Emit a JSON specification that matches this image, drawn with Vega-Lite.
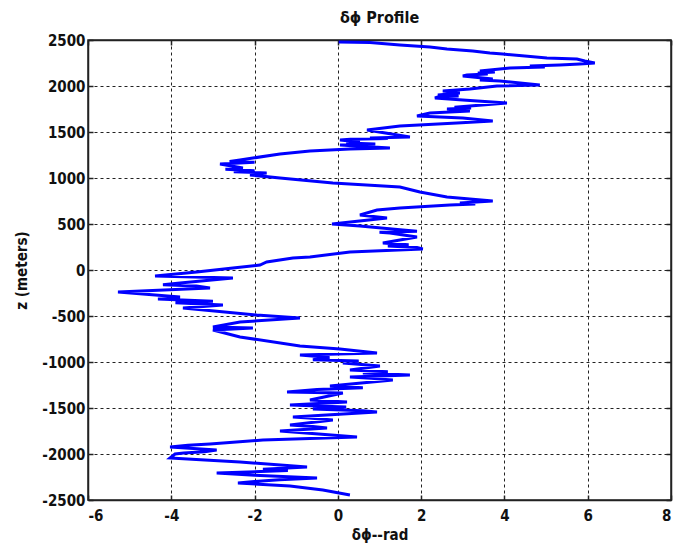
{
  "$schema": "https://vega.github.io/schema/vega-lite/v6.json",
  "width": 583,
  "height": 460,
  "autosize": "none",
  "padding": {"left": 88, "top": 40, "right": 2, "bottom": 46},
  "background": "white",
  "title": {"text": "δϕ Profile", "font": "DejaVu Sans Condensed, Liberation Sans", "fontSize": 16, "fontWeight": "bold", "color": "#111", "offset": 7, "anchor": "middle"},
  "config": {
    "view": {"stroke": "#222", "strokeWidth": 1.5},
    "axis": {
      "labelFont": "DejaVu Sans Condensed, Liberation Sans",
      "titleFont": "DejaVu Sans Condensed, Liberation Sans",
      "labelFontSize": 15,
      "labelFontWeight": "bold",
      "labelColor": "#111",
      "titleFontSize": 15,
      "titleFontWeight": "bold",
      "titleColor": "#111",
      "domainColor": "#222",
      "domainWidth": 1.5,
      "tickColor": "#222",
      "tickSize": -5,
      "tickWidth": 1.5,
      "gridColor": "#222",
      "gridDash": [3, 3],
      "gridWidth": 1,
      "gridOpacity": 1
    }
  },
  "data": {"values": [
    {"x": 0.02, "z": 2478}, {"x": 0.77, "z": 2473}, {"x": 1.49, "z": 2446}, {"x": 2.21, "z": 2424},
    {"x": 2.62, "z": 2402}, {"x": 3.24, "z": 2381}, {"x": 3.65, "z": 2359}, {"x": 3.96, "z": 2348},
    {"x": 4.49, "z": 2326}, {"x": 5.02, "z": 2304}, {"x": 5.74, "z": 2294}, {"x": 5.93, "z": 2272},
    {"x": 6.17, "z": 2250}, {"x": 5.81, "z": 2239}, {"x": 5.33, "z": 2228}, {"x": 4.61, "z": 2217},
    {"x": 4.97, "z": 2207}, {"x": 4.13, "z": 2196}, {"x": 3.41, "z": 2163}, {"x": 3.77, "z": 2152},
    {"x": 3.36, "z": 2141}, {"x": 3.0, "z": 2109}, {"x": 3.72, "z": 2076}, {"x": 3.41, "z": 2065},
    {"x": 3.89, "z": 2054}, {"x": 4.85, "z": 2011}, {"x": 3.82, "z": 2000}, {"x": 3.17, "z": 1967},
    {"x": 2.52, "z": 1946}, {"x": 2.93, "z": 1924}, {"x": 2.4, "z": 1902}, {"x": 2.33, "z": 1870},
    {"x": 3.0, "z": 1848}, {"x": 4.06, "z": 1815}, {"x": 3.17, "z": 1783}, {"x": 2.62, "z": 1750},
    {"x": 3.17, "z": 1728}, {"x": 2.21, "z": 1707}, {"x": 1.9, "z": 1674}, {"x": 3.0, "z": 1652},
    {"x": 3.72, "z": 1620}, {"x": 2.86, "z": 1598}, {"x": 1.49, "z": 1565}, {"x": 0.7, "z": 1522},
    {"x": 1.73, "z": 1446}, {"x": 0.77, "z": 1435}, {"x": 0.05, "z": 1413}, {"x": 0.53, "z": 1391},
    {"x": 0.05, "z": 1359}, {"x": 1.25, "z": 1326}, {"x": 0.29, "z": 1315}, {"x": -0.67, "z": 1294},
    {"x": -0.91, "z": 1283}, {"x": -1.39, "z": 1261}, {"x": -2.04, "z": 1217}, {"x": -2.35, "z": 1196},
    {"x": -2.83, "z": 1152}, {"x": -2.28, "z": 1109}, {"x": -1.71, "z": 1054}, {"x": -2.11, "z": 1033},
    {"x": -1.39, "z": 1000}, {"x": -0.12, "z": 946}, {"x": 1.49, "z": 902}, {"x": 1.97, "z": 848},
    {"x": 2.62, "z": 794}, {"x": 3.17, "z": 772}, {"x": 3.72, "z": 750}, {"x": 2.93, "z": 728},
    {"x": 2.69, "z": 707}, {"x": 1.49, "z": 674}, {"x": 0.94, "z": 652}, {"x": 0.53, "z": 598},
    {"x": 1.18, "z": 565}, {"x": -0.14, "z": 500}, {"x": 0.53, "z": 478}, {"x": 1.56, "z": 435},
    {"x": 1.25, "z": 402}, {"x": 1.9, "z": 359}, {"x": 1.08, "z": 293}, {"x": 2.04, "z": 228},
    {"x": 0.29, "z": 196}, {"x": -0.67, "z": 141}, {"x": -1.08, "z": 130}, {"x": -1.71, "z": 87},
    {"x": -1.87, "z": 54}, {"x": -2.52, "z": 22}, {"x": -3.39, "z": -22}, {"x": -4.39, "z": -65},
    {"x": -2.52, "z": -87}, {"x": -3.79, "z": -141}, {"x": -3.07, "z": -196}, {"x": -5.28, "z": -239},
    {"x": -3.79, "z": -293}, {"x": -4.32, "z": -315}, {"x": -2.76, "z": -380}, {"x": -3.72, "z": -413},
    {"x": -1.95, "z": -489}, {"x": -0.91, "z": -522}, {"x": -2.35, "z": -565}, {"x": -3.0, "z": -620},
    {"x": -2.04, "z": -630}, {"x": -3.0, "z": -652}, {"x": -2.35, "z": -728}, {"x": -0.91, "z": -826},
    {"x": 0.05, "z": -859}, {"x": 0.94, "z": -902}, {"x": -0.91, "z": -924}, {"x": 0.12, "z": -1011},
    {"x": 1.01, "z": -1044}, {"x": 0.29, "z": -1087}, {"x": 1.73, "z": -1141}, {"x": 0.29, "z": -1163},
    {"x": 1.32, "z": -1196}, {"x": -0.19, "z": -1261}, {"x": -1.22, "z": -1326}, {"x": 0.12, "z": -1337},
    {"x": -0.67, "z": -1413}, {"x": 0.22, "z": -1435}, {"x": -1.15, "z": -1467}, {"x": 0.94, "z": -1544},
    {"x": -1.08, "z": -1598}, {"x": -0.12, "z": -1631}, {"x": -1.15, "z": -1685}, {"x": -0.26, "z": -1717},
    {"x": -1.39, "z": -1750}, {"x": 0.46, "z": -1815}, {"x": -1.8, "z": -1848}, {"x": -3.07, "z": -1891},
    {"x": -4.03, "z": -1924}, {"x": -2.91, "z": -1957}, {"x": -3.91, "z": -2000}, {"x": -4.03, "z": -2044},
    {"x": -2.35, "z": -2087}, {"x": -0.74, "z": -2141}, {"x": -2.91, "z": -2207}, {"x": -0.5, "z": -2261},
    {"x": -2.4, "z": -2315}, {"x": -1.15, "z": -2348}, {"x": -0.36, "z": -2391}, {"x": 0.29, "z": -2446},
    {"x": 3.6, "z": 2130}, {"x": 3.1, "z": 2120}, {"x": 2.9, "z": 1890}, {"x": 2.4, "z": 1880},
    {"x": 2.8, "z": 1770}, {"x": 3.2, "z": 1760}, {"x": 1.2, "z": 1428}, {"x": 0.3, "z": 1420},
    {"x": 0.2, "z": 1380}, {"x": 0.9, "z": 1370}, {"x": -2.6, "z": 1180}, {"x": -2.0, "z": 1170},
    {"x": -2.7, "z": 1095}, {"x": -2.0, "z": 1080}, {"x": -2.5, "z": 1068}, {"x": 3.3, "z": 718},
    {"x": 1.9, "z": 420}, {"x": 1.0, "z": 410}, {"x": 1.7, "z": 275}, {"x": 1.2, "z": 260},
    {"x": 1.9, "z": 245}, {"x": -4.2, "z": -160}, {"x": -3.4, "z": -175}, {"x": -3.0, "z": -340},
    {"x": -3.9, "z": -355}, {"x": -0.2, "z": -950}, {"x": -0.6, "z": -975}, {"x": 0.5, "z": -990},
    {"x": 1.2, "z": -1105}, {"x": 0.6, "z": -1120}, {"x": 0.8, "z": -1178}, {"x": 0.6, "z": -1280},
    {"x": -0.5, "z": -1300}, {"x": 0.2, "z": -1490}, {"x": -0.6, "z": -1510}, {"x": 0.6, "z": -1530},
    {"x": -0.7, "z": -1610}, {"x": -0.6, "z": -1700}, {"x": -3.6, "z": -1905}, {"x": -3.2, "z": -1975},
    {"x": -3.7, "z": -1990}, {"x": -3.4, "z": -2060}, {"x": -1.8, "z": -2165}, {"x": -1.2, "z": -2180},
    {"x": -2.0, "z": -2230}, {"x": -1.4, "z": -2280}, {"x": -2.0, "z": -2300}
  ]},
  "resolve": {"axis": {"x": "independent", "y": "independent"}},
  "layer": [
    {
      "mark": {"type": "line", "color": "#0000ff", "strokeWidth": 3, "strokeJoin": "miter", "clip": true},
      "encoding": {
        "x": {"field": "x", "type": "quantitative", "scale": {"domain": [-6, 8], "nice": false, "zero": false},
              "axis": {"values": [-6, -4, -2, 0, 2, 4, 6, 8], "labelExpr": "toString(datum.value)", "title": "δϕ--rad", "titlePadding": 4, "labelPadding": 13, "grid": true}},
        "y": {"field": "z", "type": "quantitative", "scale": {"domain": [-2500, 2500], "nice": false, "zero": false},
              "axis": {"values": [-2500, -2000, -1500, -1000, -500, 0, 500, 1000, 1500, 2000, 2500], "labelExpr": "toString(datum.value)", "title": "z (meters)", "titlePadding": 12, "labelPadding": 8, "grid": true}},
        "order": {"field": "z", "sort": "descending"}
      }
    },
    {
      "mark": {"type": "line", "opacity": 0},
      "encoding": {
        "x": {"field": "x", "type": "quantitative", "scale": {"domain": [-6, 8], "nice": false, "zero": false},
              "axis": {"orient": "top", "values": [-6, -4, -2, 0, 2, 4, 6, 8], "labels": false, "title": null, "grid": false}},
        "y": {"field": "z", "type": "quantitative", "scale": {"domain": [-2500, 2500], "nice": false, "zero": false},
              "axis": {"orient": "right", "values": [-2500, -2000, -1500, -1000, -500, 0, 500, 1000, 1500, 2000, 2500], "labels": false, "title": null, "grid": false}},
        "order": {"field": "z", "sort": "descending"}
      }
    }
  ]
}
